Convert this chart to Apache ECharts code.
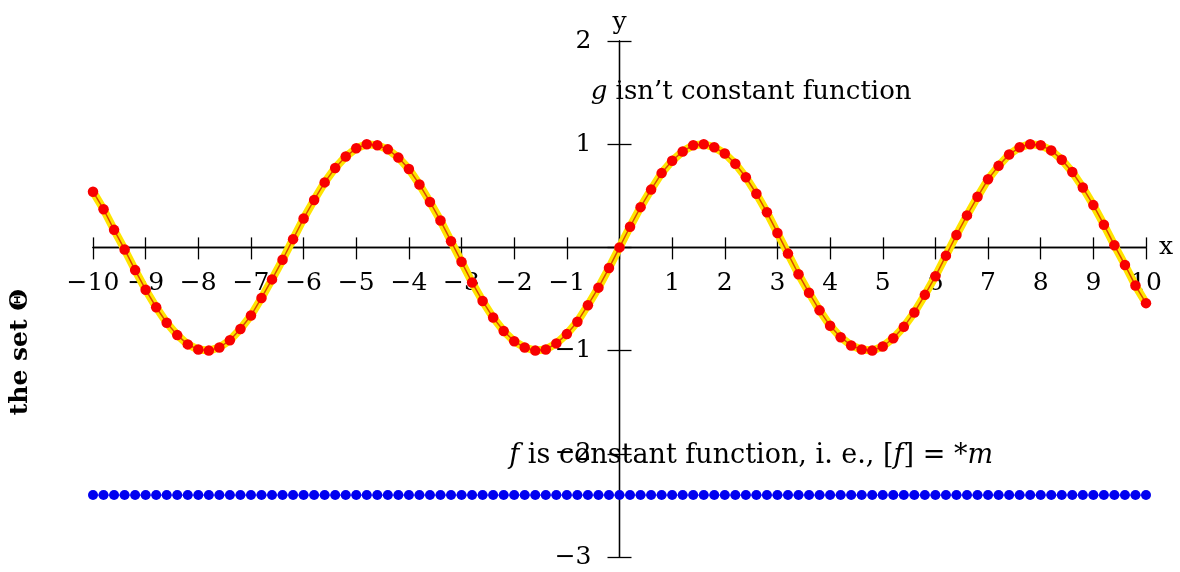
<!DOCTYPE html>
<html><head><meta charset="utf-8">
<script src="https://cdn.jsdelivr.net/npm/echarts@6/dist/echarts.min.js"></script>
<style>html,body{margin:0;padding:0;background:#fff}#c{width:1180px;height:572px}</style>
</head><body><div id="c"></div>
<script>
// sample positions along x
const xValues = [-10,-9.8,-9.6,-9.4,-9.2,-9,-8.8,-8.6,-8.4,-8.2,-8,-7.8,-7.6,-7.4,-7.2,-7,-6.8,-6.6,-6.4,-6.2,-6,-5.8,-5.6,-5.4,-5.2,-5,-4.8,-4.6,-4.4,-4.2,-4,-3.8,-3.6,-3.4,-3.2,-3,-2.8,-2.6,-2.4,-2.2,-2,-1.8,-1.6,-1.4,-1.2,-1,-0.8,-0.6,-0.4,-0.2,0,0.2,0.4,0.6,0.8,1,1.2,1.4,1.6,1.8,2,2.2,2.4,2.6,2.8,3,3.2,3.4,3.6,3.8,4,4.2,4.4,4.6,4.8,5,5.2,5.4,5.6,5.8,6,6.2,6.4,6.6,6.8,7,7.2,7.4,7.6,7.8,8,8.2,8.4,8.6,8.8,9,9.2,9.4,9.6,9.8,10];
// g: the non-constant function (red marks on yellow line)
const gValues = [0.54,0.37,0.17,-0.02,-0.22,-0.41,-0.58,-0.73,-0.85,-0.94,-0.99,-1.00,-0.97,-0.90,-0.79,-0.66,-0.49,-0.31,-0.12,0.08,0.28,0.46,0.63,0.77,0.88,0.96,1.00,0.99,0.95,0.87,0.76,0.61,0.44,0.26,0.06,-0.14,-0.34,-0.52,-0.68,-0.81,-0.91,-0.97,-1.00,-0.99,-0.93,-0.84,-0.72,-0.56,-0.39,-0.20,0,0.20,0.39,0.56,0.72,0.84,0.93,0.99,1.00,0.97,0.91,0.81,0.68,0.52,0.34,0.14,-0.06,-0.26,-0.44,-0.61,-0.76,-0.87,-0.95,-0.99,-1.00,-0.96,-0.88,-0.77,-0.63,-0.46,-0.28,-0.08,0.12,0.31,0.49,0.66,0.79,0.90,0.97,1.00,0.99,0.94,0.85,0.73,0.58,0.41,0.22,0.02,-0.17,-0.37,-0.54];
// f: the constant function (blue marks)
const fValues = [-2.4,-2.4,-2.4,-2.4,-2.4,-2.4,-2.4,-2.4,-2.4,-2.4,-2.4,-2.4,-2.4,-2.4,-2.4,-2.4,-2.4,-2.4,-2.4,-2.4,-2.4,-2.4,-2.4,-2.4,-2.4,-2.4,-2.4,-2.4,-2.4,-2.4,-2.4,-2.4,-2.4,-2.4,-2.4,-2.4,-2.4,-2.4,-2.4,-2.4,-2.4,-2.4,-2.4,-2.4,-2.4,-2.4,-2.4,-2.4,-2.4,-2.4,-2.4,-2.4,-2.4,-2.4,-2.4,-2.4,-2.4,-2.4,-2.4,-2.4,-2.4,-2.4,-2.4,-2.4,-2.4,-2.4,-2.4,-2.4,-2.4,-2.4,-2.4,-2.4,-2.4,-2.4,-2.4,-2.4,-2.4,-2.4,-2.4,-2.4,-2.4,-2.4,-2.4,-2.4,-2.4,-2.4,-2.4,-2.4,-2.4,-2.4,-2.4,-2.4,-2.4,-2.4,-2.4,-2.4,-2.4,-2.4,-2.4,-2.4,-2.4];
// axis tick labels (0 is left unlabelled)
const xTicks = [-10,-9,-8,-7,-6,-5,-4,-3,-2,-1,1,2,3,4,5,6,7,8,9,10];
const yTicks = [-3,-2,-1,1,2];
// annotations: [x, y, text]
const gNote = [2.5, 1.5, '{i|g} isn\u2019t constant function'];
const fNote = [2.5, -2.02, '{i|f} is constant function, i. e., [{i|f}] = *{i|m}'];
const sideLabel = 'the set \u0398';

const FONT = '"DejaVu Serif", "Liberation Serif", serif';
const AX = '#000';
const TXT = '#000';
const FS = 25;
const fmt = v => v < 0 ? '\u2212' + Math.abs(v) : String(v);

const gData = xValues.map((x, i) => [x, gValues[i]]);
const fData = xValues.map((x, i) => [x, fValues[i]]);
const xTickData = xTicks.map(v => [v, 0]);
const yTickData = yTicks.map(v => [0, v]);

const chart = echarts.init(document.getElementById('c'));
const line = (idx) => ({ onZero: true, onZeroAxisIndex: idx, lineStyle: { color: AX, width: 1.3 } });
const tick = { show: true, length: 12, lineStyle: { color: AX, width: 1.3 } };
const noteLabel = (txt, size) => ({
  show: true, position: 'inside', formatter: txt, opacity: 1,
  fontFamily: FONT, fontSize: size, color: TXT, textBorderWidth: 0,
  rich: { i: { fontFamily: FONT, fontSize: size, fontStyle: 'italic', color: TXT } }
});
chart.setOption({
  animation: false,
  backgroundColor: '#fff',
  grid: { left: 93, right: 34, top: 41, bottom: 15, containLabel: false, outerBoundsMode: 'none' },
  xAxis: [
    { type: 'value', min: -10, max: 10, interval: 1, position: 'bottom',
      name: 'x', nameLocation: 'end', nameGap: 13,
      nameTextStyle: { fontFamily: FONT, fontSize: FS, color: TXT, verticalAlign: 'middle' },
      axisLine: line(0), axisTick: tick, axisLabel: { show: false }, splitLine: { show: false } },
    { type: 'value', min: -10, max: 10, interval: 1, position: 'top',
      axisLine: line(1), axisTick: { show: true, length: 10, lineStyle: { color: AX, width: 1.3 } },
      axisLabel: { show: false }, splitLine: { show: false } }
  ],
  yAxis: [
    { type: 'value', min: -3, max: 2, interval: 1, position: 'left',
      name: 'y', nameLocation: 'end', nameGap: 6,
      nameTextStyle: { fontFamily: FONT, fontSize: FS, color: TXT },
      axisLine: line(0), axisTick: tick, axisLabel: { show: false }, splitLine: { show: false } },
    { type: 'value', min: -3, max: 2, interval: 1, position: 'right',
      axisLine: line(1), axisTick: tick, axisLabel: { show: false }, splitLine: { show: false } }
  ],
  graphic: [{
    type: 'text', left: 8, top: 289, rotation: Math.PI / 2,
    style: { text: sideLabel, fontFamily: FONT, fontSize: 25, fontWeight: 'bold', fill: TXT }
  }],
  series: [
    { name: 'x ticks', type: 'scatter', data: xTickData, symbolSize: 0, z: 1, silent: true,
      itemStyle: { opacity: 1 },
      label: { show: true, position: 'bottom', distance: 24, formatter: p => fmt(p.value[0]),
        fontFamily: FONT, fontSize: FS, color: TXT } },
    { name: 'y ticks', type: 'scatter', data: yTickData, symbolSize: 0, z: 1, silent: true,
      itemStyle: { opacity: 1 },
      label: { show: true, position: 'left', distance: 28, formatter: p => fmt(p.value[1]),
        fontFamily: FONT, fontSize: FS, color: TXT } },
    { name: 'g-band', type: 'line', data: gData, showSymbol: false, symbol: 'none',
      lineStyle: { color: '#FFE400', width: 8 }, z: 3, silent: true },
    { name: 'g', type: 'line', data: gData, symbol: 'circle', symbolSize: 10.5, showAllSymbol: true,
      itemStyle: { color: '#F80000' }, lineStyle: { color: '#D02000', width: 1.5, opacity: 0.8 }, z: 4 },
    { name: 'f', type: 'line', data: fData, symbol: 'circle', symbolSize: 10, showAllSymbol: true,
      itemStyle: { color: '#0000F0' }, lineStyle: { color: '#0000F0', width: 1 }, z: 4 },
    { name: 'notes', type: 'scatter', symbolSize: 0, z: 5, silent: true,
      itemStyle: { opacity: 1 },
      data: [
        { value: [gNote[0], gNote[1]], label: noteLabel(gNote[2], 26) },
        { value: [fNote[0], fNote[1]], label: noteLabel(fNote[2], 27) }
      ] }
  ]
});
</script></body></html>
